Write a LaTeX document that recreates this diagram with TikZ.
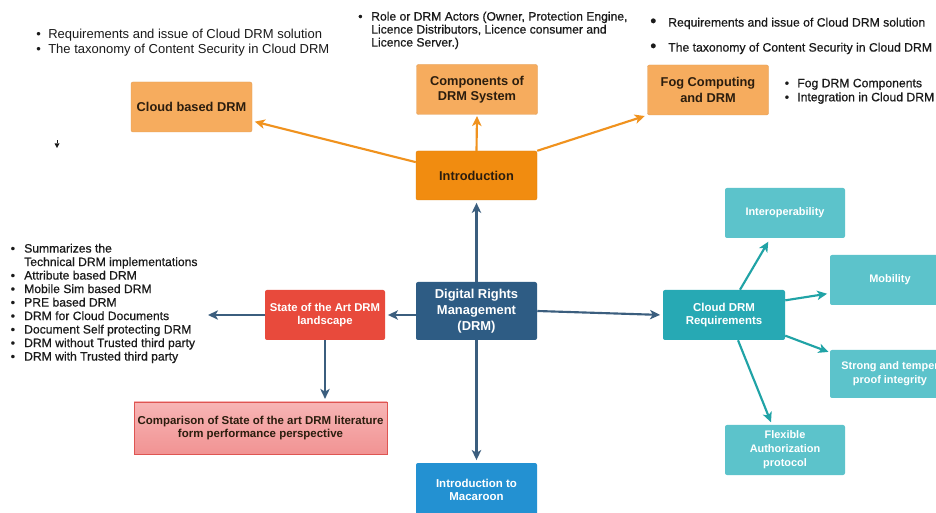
\documentclass[tikz,border=0pt]{standalone}
\usepackage{fontspec}
\setmainfont{Liberation Sans}
\newfontfamily\heavylist{Liberation Sans}[FakeBold=0.6]
\usetikzlibrary{arrows.meta}

\definecolor{paleorange}{HTML}{F6AC5E}
\definecolor{deeporange}{HTML}{F18C10}
\definecolor{orangeline}{HTML}{F0921E}
\definecolor{drmblue}{HTML}{2E5C84}
\definecolor{slateline}{HTML}{3B5E7E}
\definecolor{artred}{HTML}{E84A3C}
\definecolor{pinktop}{HTML}{F7B5B5}
\definecolor{pinkbottom}{HTML}{F19393}
\definecolor{pinkborder}{HTML}{DE5552}
\definecolor{macblue}{HTML}{2391D2}
\definecolor{reqteal}{HTML}{27A9B4}
\definecolor{paleteal}{HTML}{5CC3CB}
\definecolor{tealline}{HTML}{20A3A6}
\definecolor{darktext}{HTML}{2B1D0E}
\definecolor{listtext}{HTML}{1A1A1A}

\tikzset{
  box/.style={rectangle, rounded corners=1.5pt, align=center, inner sep=2pt,
    font=\bfseries\fontsize{9.6}{11.5}\selectfont,
    minimum width=90.75pt, minimum height=37.5pt},
  smallbox/.style={box, font=\bfseries\fontsize{8.6}{9.9}\selectfont},
  lightorange/.style={box, fill=paleorange, draw=paleorange!92!black, line width=0.3pt, text=darktext},
  introbox/.style={box, fill=deeporange, draw=deeporange!92!black, line width=0.3pt, text=darktext},
  drmbox/.style={box, fill=drmblue, text=white, font=\bfseries\fontsize{9.7}{12}\selectfont},
  redbox/.style={smallbox, fill=artred, text=white, font=\bfseries\fontsize{8.5}{9.75}\selectfont},
  pinkbox/.style={smallbox, top color=pinktop, bottom color=pinkbottom, draw=pinkborder,
    line width=0.6pt, rounded corners=0pt, text=darktext, font=\bfseries\fontsize{8.6}{9.5}\selectfont},
  macbox/.style={smallbox, fill=macblue, text=white, font=\bfseries\fontsize{8.6}{10}\selectfont},
  reqbox/.style={smallbox, fill=reqteal, text=white},
  tealbox/.style={smallbox, fill=paleteal, text=white, font=\bfseries\fontsize{8.2}{10.5}\selectfont},
  bulletlist/.style={anchor=north west, inner sep=0pt, align=left, text=listtext},
  tip/.style={-{Stealth[length=7.5pt,width=7pt,inset=2pt]}, line width=1.6pt},
  oarrow/.style={tip, draw=orangeline},
  barrow/.style={tip, draw=slateline},
  tarrow/.style={tip, draw=tealline},
}

\newcommand{\bul}[1]{\makebox[#1][l]{\textbullet}}
\newcommand{\gap}[1]{\makebox[#1][l]{}}

\begin{document}
\begin{tikzpicture}[x=0.75pt, y=-0.75pt]
  \useasboundingbox (0,0) rectangle (936,513);
  \clip (0,0) rectangle (936,513);
  \fill[white] (0,0) rectangle (936,513);

  % ---- boxes ----
  \node[lightorange] (cloud) at (191.5,107) {Cloud based DRM};
  \node[lightorange] (comp) at (477,89.5) {Components of\\DRM System};
  \node[lightorange] (fog) at (708,90) {Fog Computing\\and DRM};
  \node[introbox, minimum height=36.75pt] (intro) at (476.5,175.5) {Introduction};
  \node[drmbox, minimum height=43.5pt] (drm) at (476.5,311) {Digital Rights\\Management\\(DRM)};
  \node[redbox, minimum width=90pt] (state) at (325,315) {State of the Art DRM\\landscape};
  \node[pinkbox, minimum width=189.75pt, minimum height=39pt] (cmp) at (260.5,428)
    {Comparison of State of the art DRM literature\\form performance perspective};
  \node[macbox, minimum height=40.5pt] (mac) at (476.5,490) {Introduction to\\Macaroon};
  \node[reqbox, minimum width=91.5pt] (req) at (724,315) {Cloud DRM\\Requirements};
  \node[tealbox, minimum width=90pt] (interop) at (785,213) {Interoperability};
  \node[tealbox, minimum width=90pt] (mob) at (890,280) {Mobility};
  \node[tealbox, minimum width=90pt, minimum height=36pt] (strong) at (890,374) {Strong and temper\\proof integrity};
  \node[tealbox, minimum width=90pt] (flex) at (785,450) {Flexible\\Authorization\\protocol};

  % ---- bullet lists ----
  \node[bulletlist, font=\fontsize{9.75}{11.25}\selectfont] (listcloud) at (36,29)
    {\bul{9pt}Requirements and issue of Cloud DRM solution\\
     \bul{9pt}The taxonomy of Content Security in Cloud DRM};
  \node[bulletlist, font=\heavylist\fontsize{9.1}{9.75}\selectfont] (listcomp) at (358,11.5)
    {\bul{9.75pt}Role or DRM Actors (Owner, Protection Engine,\\
     \gap{9.75pt}Licence Distributors, Licence consumer and\\
     \gap{9.75pt}Licence Server.)};
  \node[bulletlist, font=\heavylist\fontsize{9.15}{18.75}\selectfont] (listfogtop) at (650,17.5)
    {\makebox[13.5pt][l]{\fontsize{13}{13}\selectfont\textbullet}Requirements and issue of Cloud DRM solution\\
     \makebox[13.5pt][l]{\fontsize{13}{13}\selectfont\textbullet}The taxonomy of Content Security in Cloud DRM};
  \node[bulletlist, font=\heavylist\fontsize{9.15}{10.5}\selectfont] (listfog) at (784.5,78.5)
    {\bul{9.4pt}Fog DRM Components\\
     \bul{9.4pt}Integration in Cloud DRM};
  \node[bulletlist, font=\heavylist\fontsize{9.1}{10.125}\selectfont] (liststate) at (10.5,243.5)
    {\bul{10.1pt}Summarizes the\\
     \gap{10.1pt}Technical DRM implementations\\
     \bul{10.1pt}Attribute based DRM\\
     \bul{10.1pt}Mobile Sim based DRM\\
     \bul{10.1pt}PRE based DRM\\
     \bul{10.1pt}DRM for Cloud Documents\\
     \bul{10.1pt}Document Self protecting DRM\\
     \bul{10.1pt}DRM without Trusted third party\\
     \bul{10.1pt}DRM with Trusted third party};
  \coordinate (listend) at (208,315);

  % small stray marker
  \fill[listtext] (54.5,143.5) -- (59.5,143.5) -- (57,148) -- cycle;
  \draw[listtext, line width=0.6pt] (57,140.5) -- (57,143.5);

  % ---- connectors ----
  \draw[oarrow, shorten >=2pt] ([yshift=10pt]intro.west) -- ([yshift=-10.5pt]cloud.east);
  \draw[oarrow, shorten >=1pt] (intro.north) -- (comp.south);
  \draw[oarrow, shorten >=2pt] (intro.north east) -- (fog.south west);

  \draw[barrow, shorten >=2pt] (drm.north) -- (intro.south);
  \draw[barrow, shorten >=2pt] (drm.west |- state.east) -- (state.east);
  \draw[barrow] (state.west) -- (listend);
  \draw[barrow, shorten >=2pt] (state.south) -- (state.south |- cmp.north);
  \draw[barrow, shorten >=2pt] (drm.south) -- (mac.north);
  \draw[barrow, shorten >=2pt] (drm.east) -- (req.west);

  \draw[tarrow, shorten >=3pt] ([xshift=12pt]req.north) -- ([xshift=-11pt]interop.south);
  \draw[tarrow, shorten >=2pt] ([yshift=11pt]req.east) -- ([yshift=-10pt]mob.west);
  \draw[tarrow, shorten >=1pt] ([yshift=-15.5pt]req.east) -- ([yshift=-2pt]strong.north west);
  \draw[tarrow, shorten >=2pt] ([xshift=10.5pt]req.south) -- ([xshift=-9.75pt]flex.north);
\end{tikzpicture}
\end{document}
